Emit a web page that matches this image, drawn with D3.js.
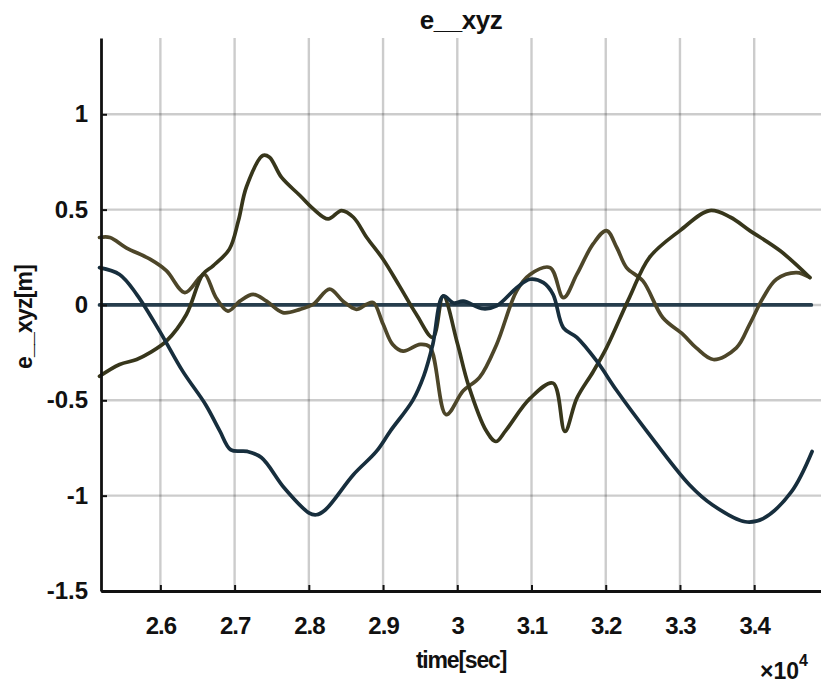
<!DOCTYPE html>
<html>
<head>
<meta charset="utf-8">
<script src="https://cdn.jsdelivr.net/npm/d3@7"></script>
<style>
  html, body { margin: 0; padding: 0; background: #fff; }
  svg { display: block; }
  text { font-family: "Liberation Sans", Arial, sans-serif; font-weight: bold; fill: #111; }
</style>
</head>
<body>
<svg id="chart" width="821" height="685"></svg>
<script>
// ---- data (time in units of x10^4 s) ----
const tA = [2.518, 2.545, 2.568, 2.586, 2.608, 2.635, 2.657, 2.671, 2.693, 2.705, 2.716, 2.738, 2.747, 2.763, 2.788, 2.806, 2.826, 2.844, 2.86, 2.878, 2.90, 2.922, 2.945, 2.967, 2.981, 3.0, 3.015, 3.039, 3.052, 3.065, 3.098, 3.129, 3.145, 3.161, 3.183, 3.201, 3.232, 3.259, 3.30, 3.34, 3.368, 3.394, 3.435, 3.475];
const yA = [-0.374, -0.312, -0.286, -0.25, -0.19, -0.05, 0.16, 0.205, 0.293, 0.44, 0.62, 0.784, 0.775, 0.67, 0.574, 0.504, 0.451, 0.495, 0.46, 0.354, 0.24, 0.10, -0.05, -0.17, 0.047, -0.2, -0.42, -0.66, -0.716, -0.66, -0.49, -0.41, -0.663, -0.49, -0.35, -0.225, 0.04, 0.25, 0.39, 0.495, 0.46, 0.39, 0.284, 0.144];

const tB = [2.518, 2.545, 2.568, 2.599, 2.63, 2.661, 2.68, 2.695, 2.717, 2.736, 2.767, 2.80, 2.81, 2.822, 2.86, 2.891, 2.91, 2.94, 2.955, 2.967, 2.981, 2.995, 3.008, 3.035, 3.053, 3.08, 3.098, 3.116, 3.129, 3.143, 3.161, 3.188, 3.215, 3.255, 3.313, 3.344, 3.388, 3.412, 3.45, 3.478];
const yB = [0.196, 0.16, 0.056, -0.137, -0.347, -0.523, -0.66, -0.76, -0.768, -0.80, -0.96, -1.09, -1.1, -1.075, -0.89, -0.768, -0.66, -0.5, -0.37, -0.207, 0.047, 0.01, 0.02, -0.02, -0.005, 0.09, 0.135, 0.117, 0.056, -0.12, -0.17, -0.295, -0.45, -0.66, -0.944, -1.049, -1.137, -1.12, -0.98, -0.768];

const tC = [2.518, 2.532, 2.554, 2.586, 2.608, 2.633, 2.653, 2.66, 2.675, 2.691, 2.707, 2.725, 2.743, 2.765, 2.788, 2.806, 2.828, 2.846, 2.864, 2.878, 2.887, 2.90, 2.913, 2.927, 2.95, 2.963, 2.985, 3.008, 3.03, 3.053, 3.08, 3.098, 3.125, 3.143, 3.161, 3.183, 3.201, 3.215, 3.228, 3.25, 3.277, 3.304, 3.322, 3.345, 3.376, 3.394, 3.412, 3.43, 3.457, 3.475];
const yC = [0.354, 0.354, 0.30, 0.24, 0.18, 0.065, 0.144, 0.16, 0.038, -0.032, 0.02, 0.056, 0.02, -0.04, -0.023, 0.004, 0.083, 0.02, -0.023, 0.004, 0.012, -0.10, -0.207, -0.242, -0.207, -0.22, -0.575, -0.45, -0.38, -0.207, 0.074, 0.16, 0.196, 0.038, 0.16, 0.32, 0.39, 0.30, 0.196, 0.126, -0.067, -0.154, -0.225, -0.286, -0.225, -0.10, 0.038, 0.135, 0.17, 0.144];

const tZ = [2.518, 3.477];
const yZ = [0, 0];

const xTicks = [2.6, 2.7, 2.8, 2.9, 3.0, 3.1, 3.2, 3.3, 3.4];
const xTickLabels = ["2.6", "2.7", "2.8", "2.9", "3", "3.1", "3.2", "3.3", "3.4"];
const yTicks = [-1.5, -1, -0.5, 0, 0.5, 1];
const yTickLabels = ["-1.5", "-1", "-0.5", "0", "0.5", "1"];

const titleText = "e__xyz";
const xLabelText = "time[sec]";
const yLabelText = "e__xyz[m]";

// ---- layout ----
const mLeft = 101, mRight = 821, mTop = 38, mBottom = 591;
const svg = d3.select("#chart");

const x = d3.scaleLinear().domain([2.52, 3.49]).range([mLeft, mRight]);
const y = d3.scaleLinear().domain([-1.5, 1.4]).range([mBottom, mTop]);

// grid
const grid = svg.append("g");
grid.selectAll(".vg").data(xTicks).enter().append("line")
  .attr("x1", d => x(d)).attr("x2", d => x(d))
  .attr("y1", mTop).attr("y2", mBottom)
  .attr("stroke", "#000").attr("stroke-opacity", 0.2).attr("stroke-width", 2.4);
grid.selectAll(".hg").data(yTicks.filter(d => d > -1.5)).enter().append("line")
  .attr("x1", mLeft).attr("x2", mRight)
  .attr("y1", d => y(d)).attr("y2", d => y(d))
  .attr("stroke", "#000").attr("stroke-opacity", 0.2).attr("stroke-width", 2.4);

// lines
const line = d3.line().x(d => x(d[0])).y(d => y(d[1])).curve(d3.curveCatmullRom.alpha(0.5));
const series = [
  {t: tZ, v: yZ, color: "#263d4c"},
  {t: tC, v: yC, color: "#4d4629"},
  {t: tA, v: yA, color: "#37361b"},
  {t: tB, v: yB, color: "#172e3d"}
];
series.forEach(s => {
  svg.append("path")
    .datum(s.t.map((t, i) => [t, s.v[i]]))
    .attr("d", line)
    .attr("fill", "none")
    .attr("stroke", s.color)
    .attr("stroke-width", 3.7)
    .attr("stroke-linejoin", "round")
    .attr("stroke-linecap", "round");
});

// axes
const xAxis = d3.axisBottom(x).tickValues(xTicks)
  .tickFormat((d, i) => xTickLabels[i]).tickSizeInner(-6).tickSizeOuter(0).tickPadding(26);
const yAxis = d3.axisLeft(y).tickValues(yTicks)
  .tickFormat((d, i) => yTickLabels[i]).tickSizeInner(-6).tickSizeOuter(0).tickPadding(13);

const gx = svg.append("g").attr("transform", `translate(0,${mBottom})`).call(xAxis);
const gy = svg.append("g").attr("transform", `translate(${mLeft},0)`).call(yAxis);
[gx, gy].forEach(g => {
  g.select(".domain").attr("stroke", "#111").attr("stroke-width", 2.8);
  g.selectAll(".tick line").attr("stroke", "#111").attr("stroke-width", 2);
  g.selectAll(".tick text").attr("font-size", 24).attr("font-family", "'Liberation Sans', Arial, sans-serif")
    .attr("font-weight", "bold").attr("fill", "#111");
});
gx.selectAll(".tick text").attr("letter-spacing", -1);

// title & labels
svg.append("text").attr("x", 461).attr("y", 29).attr("text-anchor", "middle")
  .attr("font-size", 26).attr("letter-spacing", -0.5).text(titleText);
svg.append("text").attr("x", 461).attr("y", 668).attr("text-anchor", "middle")
  .attr("font-size", 23).attr("letter-spacing", -1.2).text(xLabelText);
svg.append("text").attr("transform", "translate(32,317) rotate(-90)").attr("text-anchor", "middle")
  .attr("font-size", 23).attr("letter-spacing", -0.8).text(yLabelText);

// exponent
const ex = svg.append("text").attr("x", 760).attr("y", 679).attr("font-size", 23);
ex.append("tspan").text("\u00d710");
ex.append("tspan").attr("dy", -13).attr("font-size", 16).text("4");
</script>
</body>
</html>
